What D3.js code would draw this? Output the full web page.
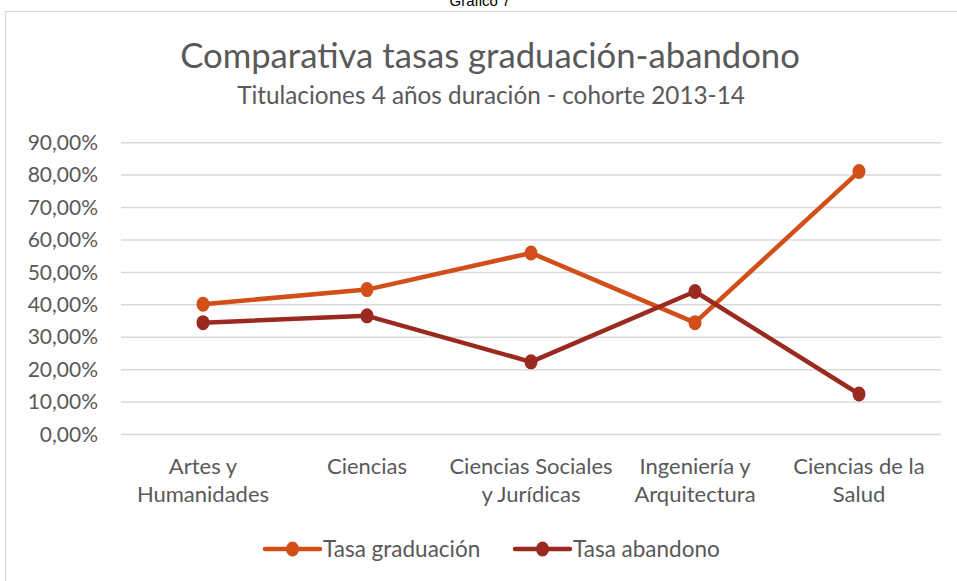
<!DOCTYPE html>
<html>
<head>
<meta charset="utf-8">
<script src="https://cdn.jsdelivr.net/npm/d3@7"></script>
<style>
  body { margin: 0; background: #fff; }
  text { font-family: Lato, "Open Sans", sans-serif; fill: #595959; }
</style>
</head>
<body>
<div id="chart"></div>
<script>
// data
var categories = [["Artes y", "Humanidades"], ["Ciencias"], ["Ciencias Sociales", "y Jurídicas"], ["Ingeniería y", "Arquitectura"], ["Ciencias de la", "Salud"]];
var graduacion = [0.402, 0.447, 0.560, 0.345, 0.811];
var abandono = [0.345, 0.366, 0.224, 0.441, 0.125];
var yTicks = [0, 0.1, 0.2, 0.3, 0.4, 0.5, 0.6, 0.7, 0.8, 0.9];
var seriesNames = ["Tasa graduación", "Tasa abandono"];
var colors = ["#d24f1a", "#9a2a1f"];

var width = 957;
var height = 581;
var plotLeft = 121, plotRight = 941, plotTop = 142.7, plotBottom = 434.5;

var svg = d3.select("#chart")
	.append("svg")
	.attr("width", width)
	.attr("height", height);

// chart frame
svg.append("rect")
	.attr("x", 5.5).attr("y", 11.5)
	.attr("width", 970).attr("height", 600)
	.attr("fill", "#fff")
	.attr("stroke", "#d9d9d9")
	.attr("stroke-width", 1.2);

svg.append("text")
	.attr("x", 480).attr("y", 6)
	.attr("text-anchor", "middle")
	.style("font-family", "Arial, 'Liberation Sans', sans-serif")
	.style("font-size", "15px")
	.style("fill", "#000")
	.text("Gráfico 7");

svg.append("text")
	.attr("x", 490).attr("y", 68)
	.attr("text-anchor", "middle")
	.style("font-size", "34.7px")
	.text("Comparativa tasas graduación-abandono");

svg.append("text")
	.attr("x", 491).attr("y", 104)
	.attr("text-anchor", "middle")
	.style("font-size", "24.3px")
	.text("Titulaciones 4 años duración - cohorte 2013-14");

var xScale = d3.scaleBand()
	.domain(d3.range(categories.length))
	.range([plotLeft, plotRight]);

var yScale = d3.scaleLinear()
	.domain([0, 0.9])
	.range([plotBottom, plotTop]);

// grid
svg.append("g")
	.selectAll("line")
	.data(yTicks)
	.enter()
	.append("line")
	.attr("x1", plotLeft).attr("x2", plotRight)
	.attr("y1", function(d){ return yScale(d); })
	.attr("y2", function(d){ return yScale(d); })
	.attr("stroke", "#d9d9d9")
	.attr("stroke-width", 1.5);

// y axis labels
var yAxis = d3.axisLeft(yScale)
	.tickValues(yTicks)
	.tickSize(0)
	.tickPadding(23)
	.tickFormat(function(d){ return (d * 100).toFixed(2).replace(".", ",") + "%"; });

var yg = svg.append("g")
	.attr("transform", "translate(" + plotLeft + ",0)")
	.call(yAxis);
yg.select(".domain").remove();
yg.selectAll("text")
	.style("font-size", "21px")
	.style("font-family", "Lato, 'Open Sans', sans-serif")
	.attr("fill", "#595959");

// x axis labels
var xg = svg.append("g");
categories.forEach(function(lines, i){
	var t = xg.append("text")
		.attr("x", xScale(i) + xScale.bandwidth() / 2)
		.attr("y", 474)
		.attr("text-anchor", "middle")
		.style("font-size", "22px");
	lines.forEach(function(l, j){
		t.append("tspan")
			.attr("x", xScale(i) + xScale.bandwidth() / 2)
			.attr("dy", j == 0 ? 0 : 28)
			.text(l);
	});
});

var line = d3.line()
	.x(function(d, i){ return xScale(i) + xScale.bandwidth() / 2; })
	.y(function(d){ return yScale(d); });

[graduacion, abandono].forEach(function(series, s){
	svg.append("path")
		.datum(series)
		.attr("d", line)
		.attr("fill", "none")
		.attr("stroke", colors[s])
		.attr("stroke-width", 4.5)
		.attr("stroke-linejoin", "round");

	svg.append("g")
		.selectAll("ellipse")
		.data(series)
		.enter()
		.append("ellipse")
		.attr("cx", function(d, i){ return xScale(i) + xScale.bandwidth() / 2; })
		.attr("cy", function(d){ return yScale(d); })
		.attr("rx", 6.5)
		.attr("ry", 7.5)
		.attr("fill", colors[s]);
});

// legend
var legendX = [265, 515];
seriesNames.forEach(function(name, s){
	var g = svg.append("g").attr("transform", "translate(" + legendX[s] + ",549)");
	g.append("line")
		.attr("x1", 0).attr("x2", 55)
		.attr("stroke", colors[s])
		.attr("stroke-width", 4.5)
		.attr("stroke-linecap", "round");
	g.append("ellipse")
		.attr("cx", 27.5).attr("cy", 0)
		.attr("rx", 6.5).attr("ry", 7.5)
		.attr("fill", colors[s]);
	g.append("text")
		.attr("x", 58).attr("y", 8)
		.style("font-size", "22.5px")
		.text(name);
});
</script>
</body>
</html>
